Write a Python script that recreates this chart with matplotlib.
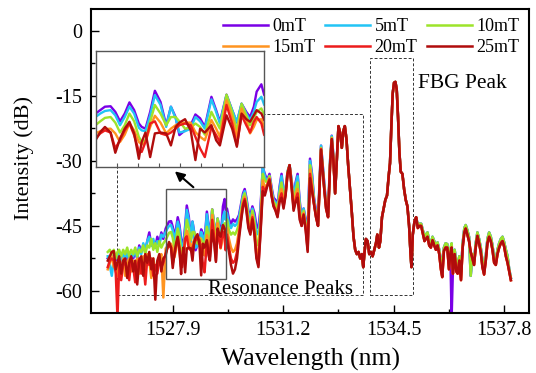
import matplotlib.pyplot as plt
from matplotlib.patches import Rectangle

plt.rcParams['font.family'] = ['Liberation Serif', 'DejaVu Serif']
plt.rcParams['axes.unicode_minus'] = False

# ---- wavelength grid (nm), split into regions ----
wl_left = [1525.96, 1526.02, 1526.08, 1526.14, 1526.20, 1526.25, 1526.30, 1526.36, 1526.42, 1526.48,
           1526.54, 1526.60, 1526.66, 1526.72, 1526.78, 1526.84, 1526.90, 1526.96, 1527.02, 1527.08,
           1527.14, 1527.20, 1527.26, 1527.32, 1527.38, 1527.44, 1527.50, 1527.56, 1527.62]
wl_zoom = [1527.69, 1527.74, 1527.79, 1527.85, 1527.90, 1527.95, 1528.00, 1528.05, 1528.10, 1528.15,
           1528.18, 1528.22, 1528.27, 1528.32, 1528.38, 1528.44, 1528.49, 1528.54, 1528.58, 1528.64,
           1528.70, 1528.75, 1528.80, 1528.85, 1528.92, 1528.97, 1529.01, 1529.08, 1529.14, 1529.19,
           1529.24, 1529.29, 1529.33, 1529.37, 1529.40, 1529.45, 1529.48]
wl_res = [1529.52, 1529.58, 1529.64, 1529.70, 1529.76, 1529.82, 1529.88, 1529.94,
          1530.00, 1530.05, 1530.10, 1530.16, 1530.22, 1530.28, 1530.34, 1530.40, 1530.46, 1530.52,
          1530.59, 1530.65, 1530.72, 1530.79, 1530.85, 1530.91, 1530.97,
          1531.03, 1531.09, 1531.15, 1531.21, 1531.27, 1531.33, 1531.39, 1531.45, 1531.51, 1531.57,
          1531.63, 1531.69, 1531.75, 1531.81, 1531.87, 1531.93,
          1532.00, 1532.06, 1532.12, 1532.18, 1532.24, 1532.33, 1532.42, 1532.48, 1532.54, 1532.60,
          1532.65, 1532.70]
wl_fbg = [1532.75, 1532.80, 1532.85, 1532.90, 1532.95,
          1533.00, 1533.04, 1533.09, 1533.14, 1533.20, 1533.25, 1533.30, 1533.35, 1533.40, 1533.45,
          1533.50, 1533.55, 1533.59, 1533.63, 1533.67, 1533.72, 1533.77, 1533.82, 1533.87, 1533.92, 1533.97,
          1534.01, 1534.06, 1534.10, 1534.15, 1534.20, 1534.25, 1534.30, 1534.35, 1534.39, 1534.43,
          1534.47, 1534.51, 1534.55, 1534.59, 1534.63, 1534.67, 1534.71, 1534.76, 1534.81, 1534.86,
          1534.91, 1534.96,
          1535.00, 1535.03, 1535.07, 1535.12, 1535.17]
wl_tail = [1535.22, 1535.27, 1535.32, 1535.37, 1535.42, 1535.46, 1535.51, 1535.56, 1535.61, 1535.66,
           1535.71, 1535.76, 1535.81, 1535.86, 1535.91, 1535.95,
           1536.00, 1536.05, 1536.10, 1536.15, 1536.19, 1536.23, 1536.27, 1536.32, 1536.37, 1536.41,
           1536.46, 1536.51, 1536.56, 1536.61, 1536.65, 1536.70, 1536.75, 1536.80, 1536.85, 1536.90, 1536.95,
           1537.00, 1537.05, 1537.10, 1537.15, 1537.20, 1537.25, 1537.30, 1537.35, 1537.40, 1537.45,
           1537.50, 1537.55, 1537.60, 1537.65, 1537.70, 1537.75, 1537.80, 1537.85, 1537.90, 1537.95,
           1538.00]

# ---- intensity (dB) ----
left_0mT = [-52.5, -53.0, -52.0, -53.5, -52.0, -53.0, -51.5, -53.5, -52.0, -53.0,
            -51.5, -53.5, -51.5, -52.5, -51.0, -52.5, -49.5, -51.0, -49.5, -51.0,
            -48.5, -46.5, -49.5, -49.0, -50.0, -47.5, -49.0, -46.5, -48.0]
left_5mT = [-52.0, -54.0, -56.5, -52.5, -51.5, -52.5, -51.0, -53.0, -51.5, -52.5,
            -51.0, -53.0, -51.0, -52.0, -50.5, -52.5, -50.0, -51.5, -49.0, -50.5,
            -48.5, -47.5, -49.5, -48.0, -50.0, -48.5, -49.5, -47.0, -47.5]
left_10mT = [-51.0, -50.5, -51.5, -50.5, -52.5, -51.0, -50.5, -52.0, -50.5, -51.5,
             -50.0, -52.0, -50.5, -51.5, -50.0, -52.0, -50.5, -51.0, -49.5, -51.5,
             -49.5, -50.0, -48.0, -50.5, -49.0, -51.0, -48.5, -50.0, -49.0]
left_15mT = [-55.0, -53.5, -52.0, -54.5, -53.5, -56.5, -53.0, -55.0, -52.5, -56.5,
             -53.5, -52.5, -55.5, -53.0, -55.0, -52.5, -56.0, -53.5, -52.0, -55.0,
             -51.5, -53.0, -57.0, -52.5, -55.0, -54.0, -53.0, -51.5, -61.5]
left_20mT = [-54.5, -53.0, -52.5, -53.0, -56.0, -66.0, -54.0, -57.5, -54.0, -53.5,
             -55.0, -57.5, -53.0, -54.5, -58.0, -54.5, -52.5, -56.0, -53.5, -58.5,
             -52.5, -54.0, -52.5, -56.5, -54.0, -56.0, -52.5, -54.5, -53.5]
left_25mT = [-53.0, -52.0, -51.0, -50.8, -55.0, -53.5, -52.0, -56.0, -53.0, -52.5,
             -57.0, -53.5, -52.0, -55.5, -53.0, -58.5, -53.0, -52.0, -56.5, -51.5,
             -53.5, -51.0, -55.0, -52.5, -62.0, -53.0, -51.5, -55.5, -52.5]

zoom_0mT = [-45.6, -44.8, -44.0, -43.9, -45.2, -47.4, -45.6, -43.0, -44.8, -47.9,
            -48.7, -49.1, -45.2, -40.3, -42.9, -48.3, -44.0, -46.4, -50.6, -49.5,
            -48.3, -45.8, -46.7, -48.7, -41.7, -44.8, -47.5, -41.2, -44.8, -47.7,
            -43.3, -45.2, -46.4, -44.0, -40.5, -38.8, -41.3]
zoom_5mT = [-46.4, -45.6, -45.0, -44.8, -46.0, -48.3, -46.4, -44.0, -45.6, -48.9,
            -49.5, -49.7, -46.0, -41.3, -43.6, -48.7, -44.0, -46.7, -50.0, -49.7,
            -49.1, -46.4, -47.4, -49.1, -42.3, -45.2, -47.9, -41.3, -44.8, -47.5,
            -43.3, -45.6, -47.1, -45.2, -42.9, -41.7, -43.6]
zoom_10mT = [-48.3, -47.4, -46.6, -46.4, -47.7, -50.0, -48.3, -45.6, -47.4, -51.0,
             -52.2, -51.8, -47.5, -43.6, -45.6, -48.3, -46.4, -46.4, -47.4, -49.1,
             -48.9, -47.9, -48.7, -50.5, -45.2, -47.4, -49.1, -41.2, -45.2, -49.5,
             -43.3, -46.0, -48.3, -46.7, -45.2, -44.4, -46.0]
zoom_15mT = [-50.2, -49.7, -49.2, -49.1, -50.2, -52.2, -50.5, -47.9, -49.5, -52.2,
             -52.8, -52.2, -48.7, -46.1, -47.7, -50.2, -49.1, -48.3, -47.9, -47.7,
             -47.7, -49.9, -51.0, -51.8, -47.1, -49.1, -51.0, -42.5, -46.4, -51.0,
             -44.4, -47.1, -50.2, -48.7, -47.1, -46.9, -48.7]
zoom_20mT = [-51.4, -50.2, -49.5, -50.0, -53.7, -51.8, -49.5, -47.9, -50.6, -54.4,
             -54.5, -52.2, -47.9, -47.4, -50.2, -50.6, -50.0, -49.1, -48.3, -47.9,
             -48.3, -51.0, -53.7, -55.7, -48.7, -50.6, -52.2, -43.6, -47.9, -53.0,
             -46.0, -48.3, -50.0, -47.5, -46.4, -47.9, -50.6]
zoom_25mT = [-51.8, -49.9, -48.7, -50.0, -54.7, -51.4, -49.1, -47.5, -50.2, -56.1,
             -52.2, -50.0, -55.7, -50.2, -50.0, -50.2, -53.0, -48.7, -47.7, -46.9,
             -49.5, -56.4, -49.1, -50.0, -48.3, -51.8, -53.0, -46.0, -49.1, -53.3,
             -45.6, -46.9, -47.5, -46.0, -44.8, -45.6, -47.1]

res_0mT = [-41.0, -43.5, -44.5, -43.5, -44.0, -43.5, -42.5, -40.0,
           -37.5, -36.5, -38.5, -41.5, -42.5, -40.5, -42.0, -45.0, -45.5, -41.0,
           -31.5, -33.0, -34.5, -33.0, -36.0, -38.5, -39.0,
           -40.5, -36.0, -33.0, -37.0, -36.5, -32.5, -31.0, -34.5, -38.5, -35.0,
           -33.0, -39.0, -43.5, -41.0, -43.5, -46.0,
           -29.5, -33.0, -38.5, -41.5, -43.5, -26.5, -34.5, -40.0, -42.0, -30.0,
           -24.2, -29.0]
res_5mT = [-42.0, -44.5, -45.5, -44.5, -45.0, -44.5, -43.0, -40.5,
           -38.0, -37.0, -39.0, -42.0, -43.5, -41.0, -43.0, -46.5, -47.0, -42.0,
           -31.5, -33.5, -35.0, -33.5, -36.5, -39.0, -39.5,
           -41.0, -36.5, -33.5, -37.5, -36.5, -32.5, -31.0, -34.5, -39.0, -35.5,
           -33.5, -39.5, -44.0, -41.0, -44.0, -47.0,
           -30.0, -33.5, -39.0, -42.0, -44.0, -26.5, -35.0, -40.0, -42.5, -30.0,
           -24.3, -29.0]
res_10mT = [-43.5, -46.0, -47.0, -46.5, -47.0, -46.0, -44.5, -41.5,
            -38.5, -37.5, -39.5, -43.0, -44.5, -41.5, -44.0, -48.5, -49.5, -43.5,
            -33.0, -34.5, -35.0, -33.5, -37.0, -39.5, -40.0,
            -41.5, -37.5, -35.0, -38.5, -37.0, -32.5, -31.0, -35.0, -39.5, -37.0,
            -35.0, -40.5, -44.5, -41.5, -44.5, -48.5,
            -31.0, -34.5, -39.5, -42.5, -44.5, -27.0, -35.5, -40.5, -42.5, -30.5,
            -24.6, -29.5]
res_15mT = [-45.5, -48.0, -50.0, -51.0, -50.5, -49.0, -46.0, -42.5,
            -39.5, -38.3, -40.5, -44.0, -45.5, -42.5, -45.5, -50.5, -52.0, -45.0,
            -34.5, -36.0, -35.5, -34.0, -37.5, -40.0, -41.0,
            -42.0, -38.5, -36.5, -39.5, -37.5, -32.8, -31.0, -35.5, -40.5, -38.0,
            -36.5, -41.5, -44.8, -42.0, -45.0, -49.5,
            -32.0, -35.5, -39.8, -42.8, -44.8, -27.2, -35.8, -40.8, -42.8, -30.8,
            -24.8, -29.8]
res_20mT = [-47.0, -50.0, -52.5, -53.5, -53.0, -51.0, -47.0, -43.5,
            -40.0, -38.8, -41.0, -45.0, -46.5, -43.0, -46.5, -52.0, -54.0, -46.5,
            -36.0, -37.0, -35.8, -34.2, -37.8, -40.3, -41.3,
            -42.8, -39.0, -37.5, -40.5, -37.8, -33.0, -31.0, -35.8, -41.0, -39.0,
            -37.5, -42.5, -45.0, -42.3, -45.5, -50.5,
            -33.0, -36.5, -40.0, -43.0, -45.0, -27.3, -36.0, -41.0, -43.0, -31.0,
            -25.0, -30.0]
res_25mT = [-48.5, -51.0, -54.0, -56.0, -55.0, -52.5, -48.0, -44.0,
            -40.5, -39.2, -41.5, -45.5, -47.0, -43.5, -47.0, -52.5, -54.5, -47.0,
            -37.0, -38.0, -36.0, -34.5, -38.0, -40.5, -41.5,
            -43.0, -39.5, -38.5, -41.0, -38.0, -33.0, -31.0, -36.0, -41.5, -39.5,
            -38.5, -43.5, -45.0, -42.5, -46.0, -51.0,
            -34.0, -37.0, -40.0, -43.0, -45.0, -27.5, -36.0, -41.0, -43.0, -31.0,
            -25.0, -30.0]

# FBG region: all six spectra coincide
fbg_common = [-37.5, -30.0, -22.0, -23.5, -27.0,
              -23.0, -22.0, -25.0, -31.0, -37.0, -42.0, -47.5, -50.5, -51.5, -51.0,
              -52.5, -51.5, -54.5, -51.0, -48.0, -48.5, -51.5, -51.0, -52.0, -50.5, -49.0,
              -47.0, -50.0, -48.5, -43.0, -41.0, -39.0, -38.0, -33.5, -30.5, -22.0,
              -14.5, -12.0, -11.8, -13.5, -20.0, -28.0, -32.5, -33.0, -36.5, -39.0,
              -40.5, -45.0,
              -51.0, -54.5, -47.0, -44.0, -43.0]

tail_0mT = [-44.8, -44.5, -44.5, -46.0, -47.5, -47.0, -46.5, -48.5, -49.0, -47.5,
            -48.5, -49.5, -48.8, -50.5, -53.0, -54.5,
            -50.0, -49.0, -49.2, -53.5, -50.5, -66.0, -54.5, -50.5, -53.5, -54.0,
            -52.0, -55.5, -49.0, -45.5, -44.8, -46.0, -47.5, -56.5, -51.5, -53.0, -49.0,
            -46.5, -48.0, -50.0, -53.0, -55.0, -52.0, -48.0, -46.5, -47.5, -49.5,
            -52.5, -53.0, -50.5, -49.0, -48.0, -47.5, -48.8, -50.5, -52.0, -55.0,
            -57.0]
tail_upper = [-44.8, -44.5, -44.5, -46.0, -47.5, -47.0, -46.5, -48.5, -49.0, -47.5,
              -48.5, -49.5, -48.8, -50.5, -53.0, -54.5,
              -50.0, -49.0, -49.2, -53.5, -50.5, -49.0, -54.5, -50.5, -53.5, -54.0,
              -52.0, -55.5, -49.0, -45.5, -44.8, -46.0, -47.5, -56.5, -51.5, -53.0, -49.0,
              -46.5, -48.0, -50.0, -53.0, -55.0, -52.0, -48.0, -46.5, -47.5, -49.5,
              -52.5, -53.0, -50.5, -49.0, -48.0, -47.5, -48.8, -50.5, -52.0, -55.0,
              -57.0]
tail_lower = [-45.5, -45.0, -45.0, -46.8, -48.5, -48.0, -47.5, -49.5, -50.0, -48.3,
              -49.5, -50.5, -49.5, -51.5, -55.0, -56.8,
              -50.8, -50.0, -50.0, -55.0, -51.5, -50.0, -56.0, -51.5, -55.5, -56.0,
              -53.0, -57.5, -50.0, -46.5, -45.6, -47.0, -48.5, -51.0, -52.5, -54.0, -50.0,
              -47.3, -49.0, -51.0, -54.5, -56.2, -53.0, -49.0, -47.5, -48.5, -50.5,
              -53.5, -54.0, -51.5, -50.0, -49.0, -48.5, -49.8, -52.0, -53.5, -55.5,
              -57.5]

labels = ['0mT', '5mT', '10mT', '15mT', '20mT', '25mT']
colors = ['#7a00e6', '#22c4f5', '#9de42a', '#ff9420', '#ec1c1c', '#b00c0c']

wavelength = wl_left + wl_zoom + wl_res + wl_fbg + wl_tail
spectra = {
    '0mT': left_0mT + zoom_0mT + res_0mT + fbg_common + tail_0mT,
    '5mT': left_5mT + zoom_5mT + res_5mT + fbg_common + tail_upper,
    '10mT': left_10mT + zoom_10mT + res_10mT + fbg_common + tail_upper,
    '15mT': left_15mT + zoom_15mT + res_15mT + fbg_common + tail_lower,
    '20mT': left_20mT + zoom_20mT + res_20mT + fbg_common + tail_lower,
    '25mT': left_25mT + zoom_25mT + res_25mT + fbg_common + tail_lower,
}

fig = plt.figure(figsize=(5.36, 3.73), dpi=100)
ax = fig.add_axes([0.1692, 0.1617, 0.8183, 0.8142])

for lab, col in zip(labels, colors):
    ax.plot(wavelength, spectra[lab], color=col, lw=1.8, label=lab)

ax.set_xlim(1525.45, 1538.55)
ax.set_ylim(-65, 5)
ax.set_xticks([1527.9, 1531.2, 1534.5, 1537.8])
ax.set_xticks([1526.25, 1529.55, 1532.85, 1536.15], minor=True)
ax.set_yticks([0, -15, -30, -45, -60])
ax.set_yticks([-7.5, -22.5, -37.5, -52.5], minor=True)
ax.tick_params(which='both', direction='in', top=False, right=False, width=1)
ax.tick_params(which='major', length=5.5, labelsize=14.5, pad=6)
ax.tick_params(which='minor', length=2.8)
for s in ax.spines.values():
    s.set_linewidth(1.5)

ax.set_xlabel('Wavelength (nm)', fontsize=18.5)
ax.xaxis.set_label_coords(0.502, -0.116)
ax.set_ylabel('Intensity (dB)', fontsize=16)
ax.yaxis.set_label_coords(-0.129, 0.51)

# legend filled row by row: 0/5/10 on top, 15/20/25 below
handles, names = ax.get_legend_handles_labels()
order = [0, 3, 1, 4, 2, 5]
ax.legend([handles[i] for i in order], [names[i] for i in order], ncol=3,
          loc='upper left', bbox_to_anchor=(0.3023, 0.969), frameon=False,
          fontsize=13, handlelength=2.45, handletextpad=0.28, columnspacing=0.54,
          borderpad=0, borderaxespad=0, labelspacing=0.22)

# dashed region markers
dash = (0, (3, 2))
ax.add_patch(Rectangle((1526.24, -61.0), 7.33, 41.9, fill=False, ls=dash, lw=0.7,
                       ec='#333333', zorder=1))
ax.add_patch(Rectangle((1533.79, -61.0), 1.29, 54.8, fill=False, ls=dash, lw=0.7,
                       ec='#333333', zorder=1))
# magnified window
ax.add_patch(Rectangle((1527.69, -57.3), 1.79, 20.7, fill=False, lw=1.0,
                       ec='#555555', zorder=3))

ax.text(1535.24, -13.1, 'FBG Peak', fontsize=15.5, va='baseline', ha='left')
ax.text(1528.96, -60.6, 'Resonance Peaks', fontsize=15, va='baseline', ha='left', zorder=4)
ax.annotate('', xy=(1527.90, -32.0), xytext=(1528.58, -36.5),
            arrowprops=dict(arrowstyle='-|>', color='black', lw=1.5, mutation_scale=14))

# inset
axin = fig.add_axes([0.1782, 0.5523, 0.3147, 0.3118])
axin.set_facecolor('white')
for lab, col in zip(labels, colors):
    axin.plot(wavelength, spectra[lab], color=col, lw=1.7)
axin.set_xlim(1527.69, 1529.48)
axin.set_ylim(-58, -31)
step = (1529.48 - 1527.69) / 8
axin.set_xticks([1527.69 + k * step for k in range(1, 8)])
axin.set_yticks([])
axin.tick_params(axis='x', direction='in', length=3, width=0.8, labelbottom=False, color='#555555')
for s in axin.spines.values():
    s.set_linewidth(1.0)
    s.set_color('#555555')

fig.savefig('out.png', dpi=100)
